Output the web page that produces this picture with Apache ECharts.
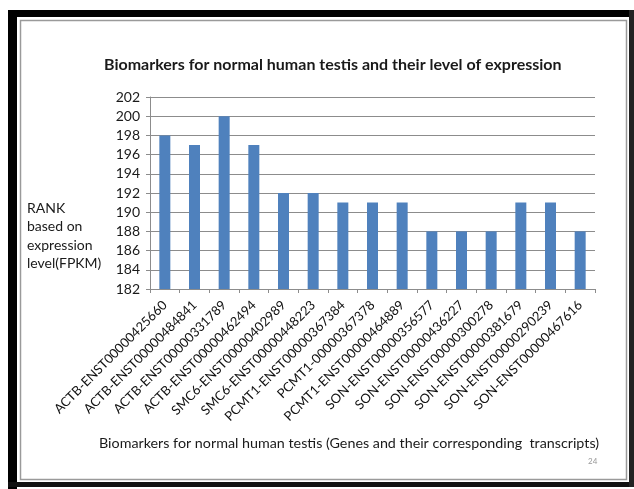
<!DOCTYPE html>
<html>
<head>
<meta charset="utf-8">
<script src="https://cdn.jsdelivr.net/npm/echarts@6/dist/echarts.min.js"></script>
<style>
html,body{margin:0;padding:0;background:#fff;}
#chart{width:634px;height:489px;}
</style>
</head>
<body>
<div id="chart"></div>
<script>
var categories = [
  'ACTB-ENST00000425660','ACTB-ENST00000484841','ACTB-ENST00000331789','ACTB-ENST00000462494',
  'SMC6-ENST00000402989','SMC6-ENST00000448223','PCMT1-ENST00000367384','PCMT1-00000367378',
  'PCMT1-ENST00000464889','SON-ENST00000356577','SON-ENST00000436227','SON-ENST00000300278',
  'SON-ENST00000381679','SON-ENST00000290239','SON-ENST00000467616'
];
var rankValues = [198, 197, 200, 197, 192, 192, 191, 191, 191, 188, 188, 188, 191, 191, 188];
var yMin = 182, yMax = 202, yStep = 2;
var chartTitle = 'Biomarkers for normal human testis and their level of expression';
var xTitle = 'Biomarkers for normal human testis (Genes and their corresponding  transcripts)';
var yTitle = 'RANK\nbased on\nexpression\nlevel(FPKM)';
var pageNo = '24';

var chart = echarts.init(document.getElementById('chart'));
var font = 'Lato, "Open Sans", sans-serif';
chart.setOption({
  animation: false,
  backgroundColor: '#ffffff',
  title: {
    text: chartTitle,
    left: 99, top: 52,
    textStyle: {fontFamily: font, fontSize: 16, fontWeight: 'bold', color: '#1a1a1a'}
  },
  grid: {left: 150, right: 39, top: 97, bottom: 200, containLabel: false},
  xAxis: {
    type: 'category',
    data: categories,
    axisLine: {lineStyle: {color: '#8c8c8c', width: 1}},
    axisTick: {show: true, alignWithLabel: false, length: 4, lineStyle: {color: '#8c8c8c'}},
    axisLabel: {interval: 0, rotate: 45, margin: 14, fontFamily: font, fontSize: 13, color: '#111'}
  },
  yAxis: {
    type: 'value',
    min: yMin, max: yMax, interval: yStep,
    axisLine: {show: true, lineStyle: {color: '#8c8c8c'}},
    axisTick: {show: true, length: 4, lineStyle: {color: '#8c8c8c'}},
    axisLabel: {margin: 10, fontFamily: font, fontSize: 14, color: '#1a1a1a'},
    splitLine: {lineStyle: {color: '#8c8c8c', width: 1}}
  },
  series: [{
    type: 'bar',
    data: rankValues,
    barWidth: 11,
    itemStyle: {color: '#4F81BD'}
  }],
  graphic: [
    {type: 'rect', shape: {x: 8, y: 10, width: 626, height: 7}, style: {fill: '#000'}, silent: true},
    {type: 'rect', shape: {x: 8, y: 10, width: 9, height: 479}, style: {fill: '#000'}, silent: true},
    {type: 'rect', shape: {x: 8, y: 482, width: 626, height: 5}, style: {fill: '#111'}, silent: true},
    {type: 'rect', shape: {x: 629, y: 10, width: 5, height: 477}, style: {fill: '#222'}, silent: true},
    {type: 'rect', shape: {x: 20.5, y: 20.5, width: 606, height: 459}, style: {fill: 'none', stroke: '#9a9a9a', lineWidth: 1.5}, silent: true},
    {type: 'text', left: 27, top: 199, style: {text: yTitle, font: '14px ' + font, fill: '#1a1a1a', lineHeight: 18.5}},
    {type: 'text', left: 99, top: 436, style: {text: xTitle, font: '14.3px ' + font, fill: '#1a1a1a'}},
    {type: 'text', left: 588, top: 457, style: {text: pageNo, font: '8px ' + font, fill: '#999'}}
  ]
});
</script>
</body>
</html>
